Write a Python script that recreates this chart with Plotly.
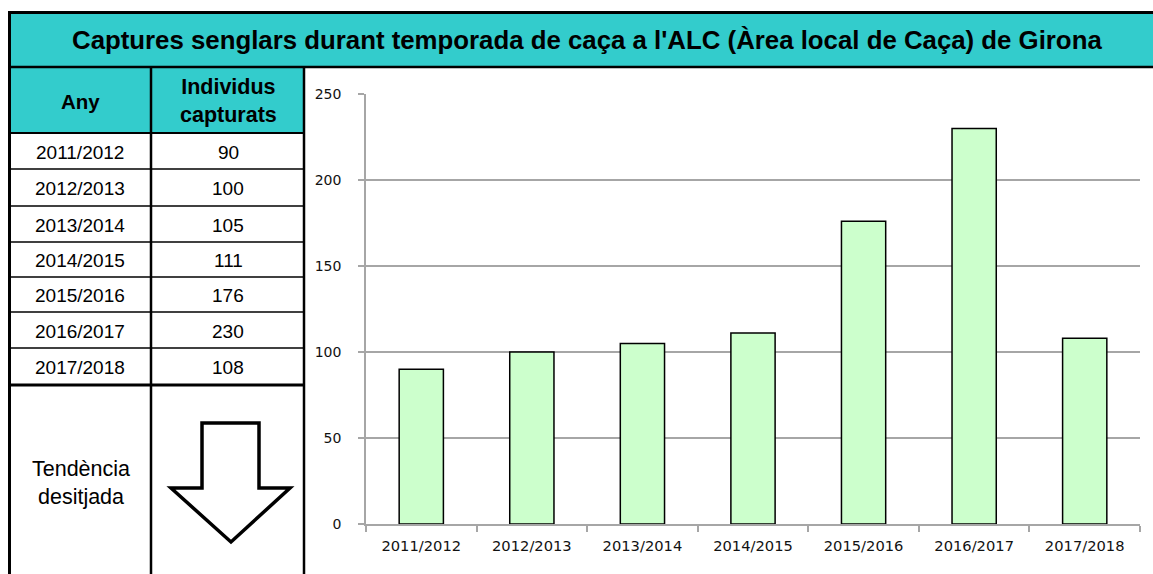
import plotly.graph_objects as go

# Hunting season data
seasons = ["2011/2012", "2012/2013", "2013/2014", "2014/2015",
           "2015/2016", "2016/2017", "2017/2018"]
captures = [90, 100, 105, 111, 176, 230, 108]
y_ticks = [0, 50, 100, 150, 200, 250]

title_text = "Captures senglars durant temporada de caça a l'ALC (Àrea local de Caça) de Girona"
header_year = "Any"
header_count = "Individus<br>capturats"
trend_label = "Tendència<br>desitjada"

W, H = 1153, 574
TEAL = "#33CCCC"
BAR_FILL = "#CCFFCC"
GRID = "#A6A6A6"


def px(x):
    return x / W


def py(y):
    return 1 - y / H


fig = go.Figure()

fig.add_trace(go.Bar(
    x=seasons, y=captures,
    marker=dict(color=BAR_FILL, line=dict(color="#000000", width=1.5)),
    width=0.4,
    hoverinfo="x+y",
))

shapes = []


def line(x0, y0, x1, y1, w, color="#000000"):
    shapes.append(dict(type="line", xref="paper", yref="paper",
                       x0=px(x0), y0=py(y0), x1=px(x1), y1=py(y1),
                       line=dict(color=color, width=w), layer="above"))


def rect(x0, y0, x1, y1, fill):
    shapes.append(dict(type="rect", xref="paper", yref="paper",
                       x0=px(x0), y0=py(y0), x1=px(x1), y1=py(y1),
                       fillcolor=fill, line=dict(width=0), layer="below"))


# Title band and header cells
rect(9, 12, W + 2, 67, TEAL)
rect(9, 67, 304, 133, TEAL)

# Table grid
col_left, col_mid, col_right = 9.5, 151, 304
row_edges = [133, 169, 206, 242, 277, 312, 348, 385]
line(9, 12.5, W + 2, 12.5, 3)
line(9, 67, W + 2, 67, 2.5)
line(col_left, 11, col_left, H + 2, 3)
line(col_mid, 67, col_mid, H + 2, 2.5)
line(col_right, 67, col_right, H + 2, 2.5)
line(col_left, 133, col_right, 133, 2)
for yy in row_edges[1:-1]:
    line(col_left, yy, col_right, yy, 1.5)
line(col_left, 385, col_right, 385, 3)

# Down arrow (desired trend)
arrow = [(202, 423), (259, 423), (259, 488), (290, 488), (231, 542),
         (171, 488), (202, 488)]
path = "M " + " L ".join(f"{px(a)},{py(b)}" for a, b in arrow) + " Z"
shapes.append(dict(type="path", xref="paper", yref="paper", path=path,
                   fillcolor="#FFFFFF", line=dict(color="#000000", width=3.5),
                   layer="above"))

annotations = []


def text(x, y, s, size, bold=False):
    annotations.append(dict(
        xref="paper", yref="paper", x=px(x), y=py(y), text=f"<b>{s}</b>" if bold else s,
        showarrow=False, xanchor="center", yanchor="middle",
        font=dict(family="Liberation Sans, Arial, sans-serif", size=size, color="#000000"),
    ))


text(587, 40, title_text, 25.8, bold=True)
text(80, 101, header_year, 20.5, bold=True)
text(228, 101, header_count, 21.5, bold=True)

for i, (s, v) in enumerate(zip(seasons, captures)):
    yc = (row_edges[i] + row_edges[i + 1]) / 2 + 1
    text(80, yc, s, 19)
    text(228, yc, str(v), 19)

text(81, 483, trend_label, 21.5)

fig.update_layout(
    width=W, height=H,
    margin=dict(l=0, r=0, t=0, b=0, pad=0, autoexpand=False),
    paper_bgcolor="#FFFFFF", plot_bgcolor="#FFFFFF",
    showlegend=False,
    bargap=0.6,
    shapes=shapes,
    annotations=annotations,
    xaxis=dict(
        domain=[px(366), px(1140)],
        automargin=False,
        showgrid=False,
        showline=True, linecolor=GRID, linewidth=1.5,
        ticks="outside", tickson="boundaries", ticklen=6, tickcolor=GRID, tickwidth=1.5,
        tickfont=dict(family="DejaVu Sans, Tahoma, sans-serif", size=14.7, color="#111111"),
        ticklabelstandoff=8,
    ),
    yaxis=dict(
        domain=[py(524), py(94)],
        automargin=False,
        range=[0, 250],
        tickvals=y_ticks,
        showgrid=True, gridcolor=GRID, gridwidth=1.5,
        showline=True, linecolor=GRID, linewidth=1.5,
        zeroline=False,
        ticks="outside", ticklen=6, tickcolor=GRID, tickwidth=1.5,
        tickfont=dict(family="DejaVu Sans, Tahoma, sans-serif", size=14, color="#111111"),
        ticklabelstandoff=14,
    ),
)

fig.write_html("out.html")
